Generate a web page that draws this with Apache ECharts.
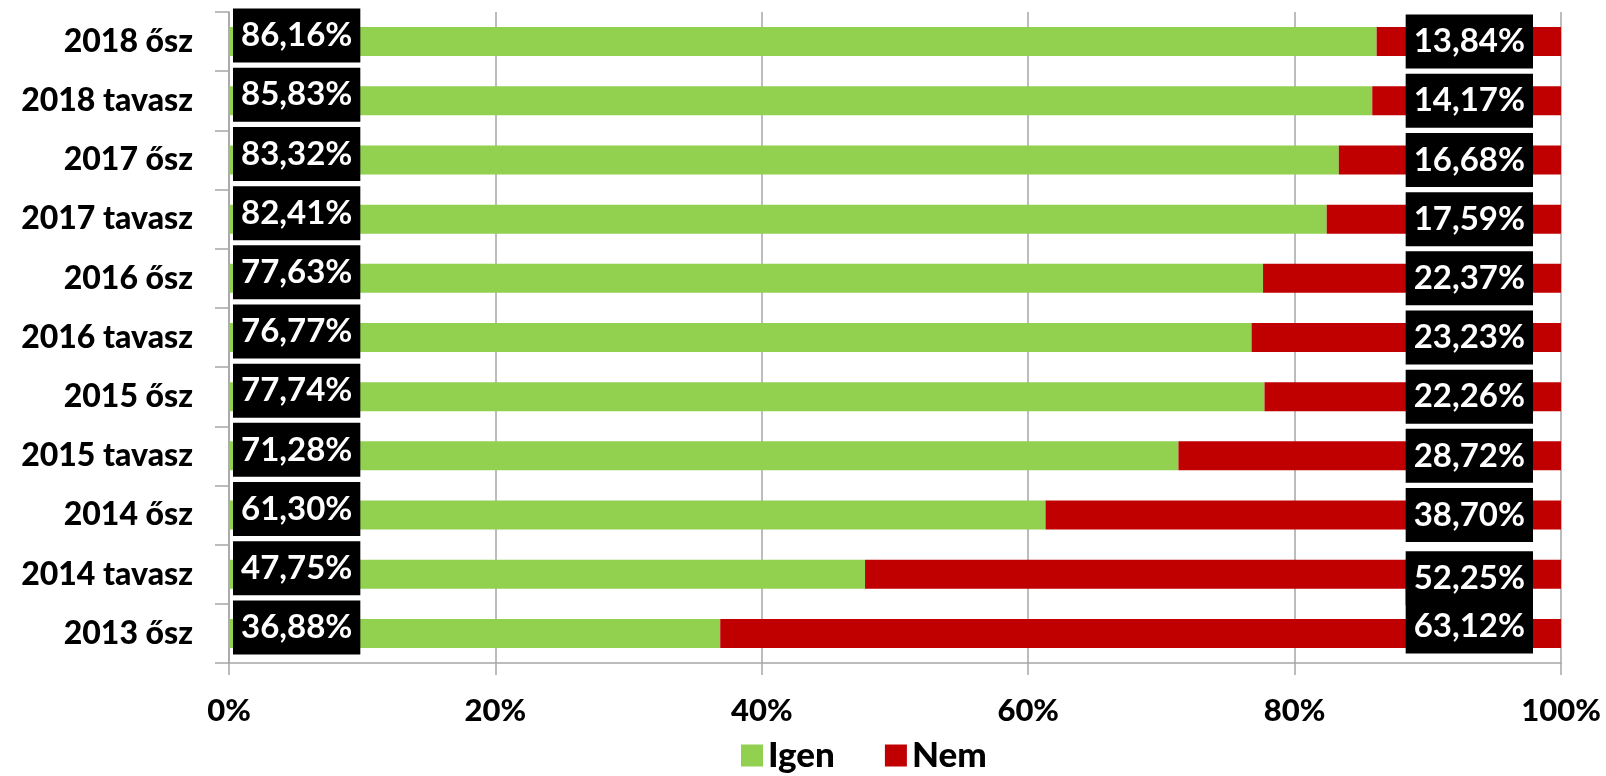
<!DOCTYPE html>
<html>
<head>
<meta charset="utf-8">
<script src="https://cdn.jsdelivr.net/npm/echarts@6/dist/echarts.min.js"></script>
<style>
html,body{margin:0;padding:0;background:#fff;}
#main{width:1606px;height:776px;}
</style>
</head>
<body>
<div id="main"></div>
<script>
const categories = ['2013 ősz','2014 tavasz','2014 ősz','2015 tavasz','2015 ősz','2016 tavasz','2016 ősz','2017 tavasz','2017 ősz','2018 tavasz','2018 ősz'];
const igen = [36.88, 47.75, 61.30, 71.28, 77.74, 76.77, 77.63, 82.41, 83.32, 85.83, 86.16];
const nem = [63.12, 52.25, 38.70, 28.72, 22.26, 23.23, 22.37, 17.59, 16.68, 14.17, 13.84];
const xTicks = [0, 20, 40, 60, 80, 100];
const legendNames = ['Igen', 'Nem'];

const FONT = 'Lato';
const fmt = v => v.toFixed(2).replace('.', ',') + '%';
const labelBox = {
  show: true,
  color: '#fff',
  fontFamily: FONT,
  fontWeight: 'bold',
  fontSize: 33,
  lineHeight: 40,
  backgroundColor: '#000',
  padding: [7, 8, 7, 8],
  formatter: p => fmt(p.value)
};

// Nem data: the bottom two labels overlap into one merged black box, as in the original
const nemData = nem.map((v, i) => {
  if (i === 0) return { value: v, label: { offset: [0, -27], formatter: p => ' \n' + fmt(p.value) } };
  if (i === 1) return { value: v, label: { offset: [0, 4] } };
  return v;
});

const chart = echarts.init(document.getElementById('main'));
chart.setOption({
  animation: false,
  grid: { left: 229, right: 45, top: 12, bottom: 113, containLabel: false },
  legend: {
    bottom: -2,
    left: 736,
    itemWidth: 22,
    itemHeight: 22,
    itemGap: 50,
    icon: 'rect',
    textStyle: { fontFamily: FONT, fontWeight: 900, fontSize: 35, color: '#000' },
    data: legendNames
  },
  xAxis: {
    type: 'value',
    min: 0, max: 100, interval: 20,
    axisLine: { show: true, lineStyle: { color: '#a6a6a6', width: 1.5 } },
    axisTick: { show: true, length: 12, lineStyle: { color: '#a6a6a6', width: 1.5 } },
    splitLine: { show: true, lineStyle: { color: '#a6a6a6', width: 1.5 } },
    axisLabel: {
      margin: 32,
      fontFamily: FONT, fontWeight: 900, fontSize: 31, color: '#000',
      formatter: v => xTicks.includes(v) ? v + '%' : ''
    }
  },
  yAxis: {
    type: 'category',
    data: categories,
    axisLine: { show: true, lineStyle: { color: '#a6a6a6', width: 1.5 } },
    axisTick: { show: true, length: 14, lineStyle: { color: '#a6a6a6', width: 1.5 } },
    axisLabel: { margin: 36, fontFamily: FONT, fontWeight: 900, fontSize: 32, color: '#000' }
  },
  series: [
    {
      name: 'Igen', type: 'bar', stack: 'total', barWidth: 29,
      itemStyle: { color: '#92d050' },
      data: igen,
      label: Object.assign({}, labelBox, { position: 'insideLeft', distance: 4, offset: [0, -6] })
    },
    {
      name: 'Nem', type: 'bar', stack: 'total', barWidth: 29,
      itemStyle: { color: '#c00000' },
      data: nemData,
      label: Object.assign({}, labelBox, { position: 'insideRight', distance: 28 })
    }
  ]
});
</script>
</body>
</html>
